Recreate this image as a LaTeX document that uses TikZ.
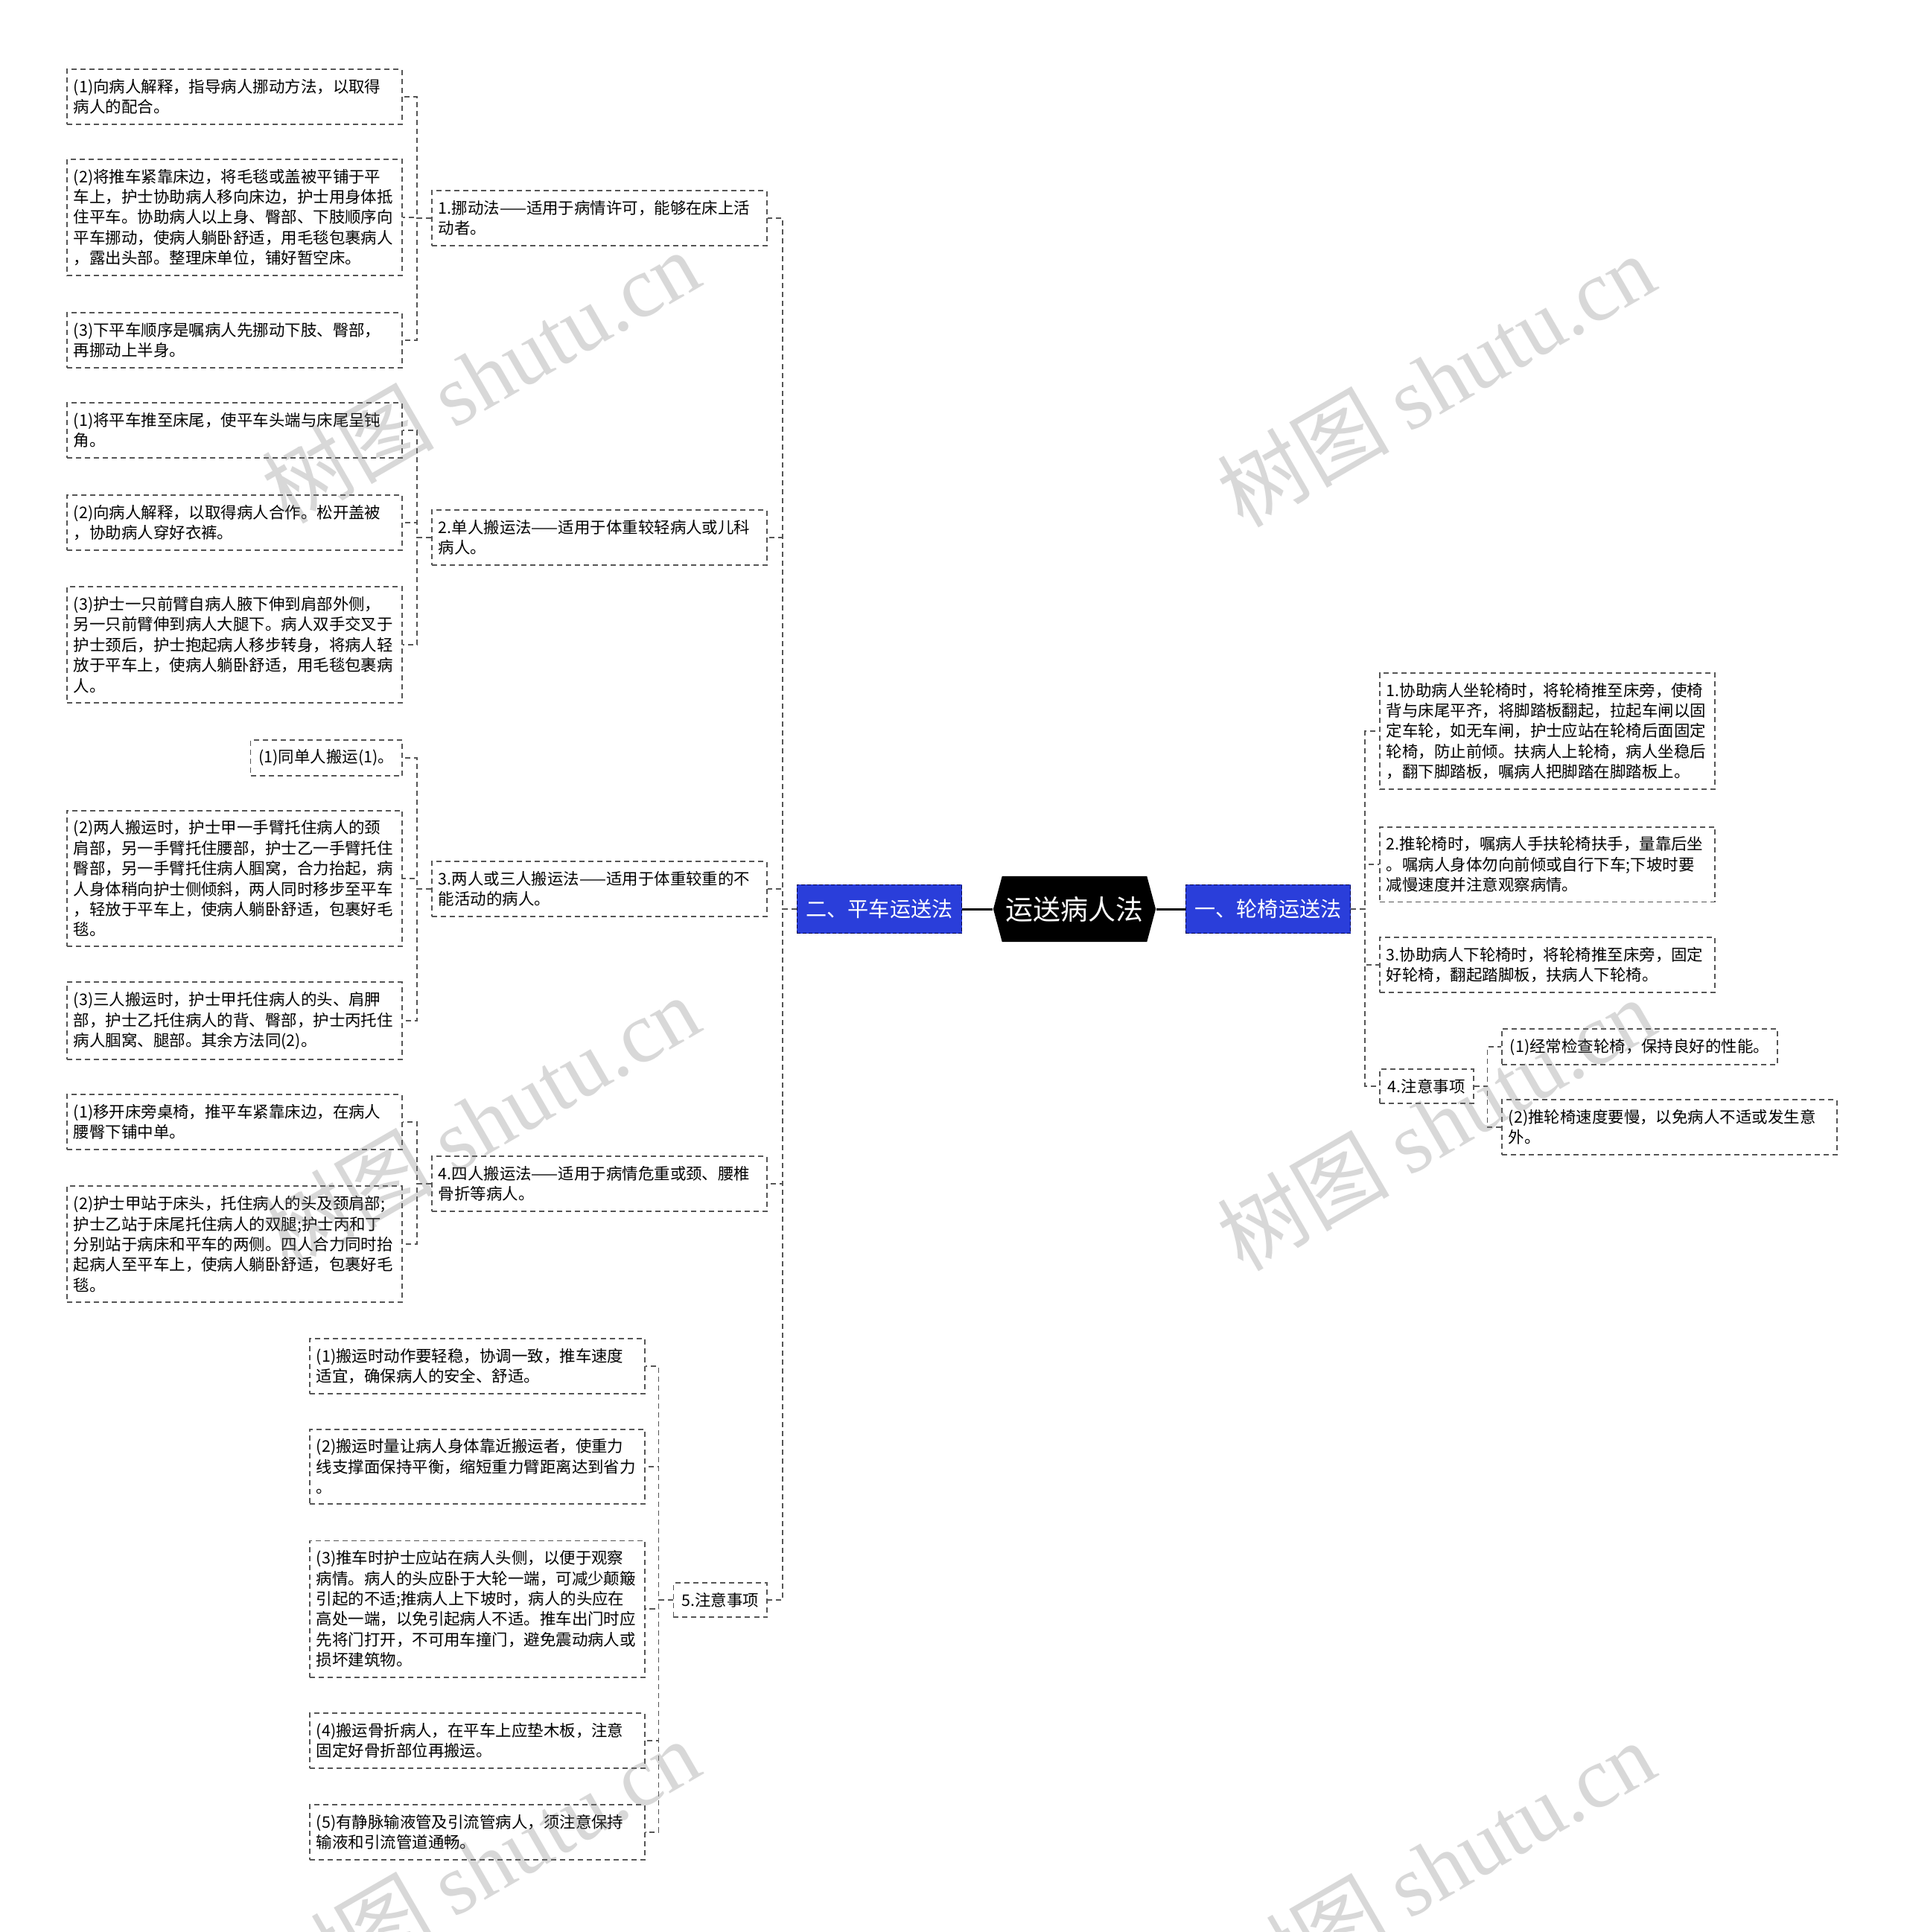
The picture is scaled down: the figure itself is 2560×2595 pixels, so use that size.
\documentclass[tikz,border=0pt]{standalone}
\usepackage{fontspec}
\setmainfont{Noto Sans CJK SC}
\newfontfamily\wmfont{Liberation Serif}
\usetikzlibrary{shapes.symbols}
\definecolor{branchblue}{RGB}{42,62,218}
\definecolor{linkgray}{RGB}{85,85,85}
\tikzset{
  box/.style={draw=linkgray, dash pattern=on 0.07cm off 0.05cm, line width=0.018cm,
    fill=white, inner xsep=0.11cm, inner ysep=0.13cm, font=\fontsize{6.1pt}{7.8pt}\selectfont},
  leaf/.style={box, text width=4.32cm, inner xsep=0.09cm, align=left},
  link/.style={draw=linkgray, dash pattern=on 0.07cm off 0.05cm, line width=0.018cm},
  rootlink/.style={draw=black, line width=0.03cm},
  branch/.style={draw=black!70!blue, dash pattern=on 0.05cm off 0.03cm, line width=0.015cm,
    fill=branchblue, text=white, minimum width=2.21cm, minimum height=0.65cm, inner sep=0pt,
    font=\fontsize{8pt}{9.6pt}\selectfont},
  hub/.style={signal, signal to=west and east, signal pointer angle=150, fill=black, text=white,
    minimum width=2.18cm, minimum height=0.88cm, inner sep=0pt, font=\fontsize{10.5pt}{12pt}\selectfont},
  wm/.style={rotate=30, text=gray, opacity=0.3, font=\fontsize{33pt}{33pt}\selectfont}
}
\begin{document}
\begin{tikzpicture}[x=0.01cm, y=-0.01cm]
  \fill[white] (0,0) rectangle (2560,2595);
  \useasboundingbox (0,0) rectangle (2560,2595);
  % centre
  \node[hub] (root) at (1443,1221) {运送病人法};
  \node[branch] (ping) at (1181,1221) {二、平车运送法};
  \node[branch] (lun) at (1703,1221) {一、轮椅运送法};
  \draw[rootlink] (root.west) -- (ping.east);
  \draw[rootlink] (root.east) -- (lun.west);

  % 平车运送法
  \node[leaf, anchor=east] (p1) at (1031,293) {1.挪动法——适用于病情许可，能够在床上活\\动者。};
  \node[leaf, anchor=east] (p2) at (1031,722) {2.单人搬运法——适用于体重较轻病人或儿科\\病人。};
  \node[leaf, anchor=east] (p3) at (1031,1194) {3.两人或三人搬运法——适用于体重较重的不\\能活动的病人。};
  \node[leaf, anchor=east] (p4) at (1031,1590) {4.四人搬运法——适用于病情危重或颈、腰椎\\骨折等病人。};
  \node[box, anchor=east] (p5) at (1031,2149) {5.注意事项};

  \node[leaf, anchor=east] (p11) at (541,130) {(1)向病人解释，指导病人挪动方法，以取得\\病人的配合。};
  \node[leaf, anchor=east] (p12) at (541,292) {(2)将推车紧靠床边，将毛毯或盖被平铺于平\\车上，护士协助病人移向床边，护士用身体抵\\住平车。协助病人以上身、臀部、下肢顺序向\\平车挪动，使病人躺卧舒适，用毛毯包裹病人\\，露出头部。整理床单位，铺好暂空床。};
  \node[leaf, anchor=east] (p13) at (541,457) {(3)下平车顺序是嘱病人先挪动下肢、臀部，\\再挪动上半身。};

  \node[leaf, anchor=east] (p21) at (541,578) {(1)将平车推至床尾，使平车头端与床尾呈钝\\角。};
  \node[leaf, anchor=east] (p22) at (541,702) {(2)向病人解释，以取得病人合作。松开盖被\\，协助病人穿好衣裤。};
  \node[leaf, anchor=east] (p23) at (541,866) {(3)护士一只前臂自病人腋下伸到肩部外侧，\\另一只前臂伸到病人大腿下。病人双手交叉于\\护士颈后，护士抱起病人移步转身，将病人轻\\放于平车上，使病人躺卧舒适，用毛毯包裹病\\人。};

  \node[box, anchor=east] (p31) at (541,1018) {(1)同单人搬运(1)。};
  \node[leaf, anchor=east] (p32) at (541,1180) {(2)两人搬运时，护士甲一手臂托住病人的颈\\肩部，另一手臂托住腰部，护士乙一手臂托住\\臀部，另一手臂托住病人腘窝，合力抬起，病\\人身体稍向护士侧倾斜，两人同时移步至平车\\，轻放于平车上，使病人躺卧舒适，包裹好毛\\毯。};
  \node[leaf, anchor=east] (p33) at (541,1371) {(3)三人搬运时，护士甲托住病人的头、肩胛\\部，护士乙托住病人的背、臀部，护士丙托住\\病人腘窝、腿部。其余方法同(2)。};

  \node[leaf, anchor=east] (p41) at (541,1507) {(1)移开床旁桌椅，推平车紧靠床边，在病人\\腰臀下铺中单。};
  \node[leaf, anchor=east] (p42) at (541,1671) {(2)护士甲站于床头，托住病人的头及颈肩部;\\护士乙站于床尾托住病人的双腿;护士丙和丁\\分别站于病床和平车的两侧。四人合力同时抬\\起病人至平车上，使病人躺卧舒适，包裹好毛\\毯。};

  \node[leaf, anchor=east] (p51) at (867,1835) {(1)搬运时动作要轻稳，协调一致，推车速度\\适宜，确保病人的安全、舒适。};
  \node[leaf, anchor=east] (p52) at (867,1970) {(2)搬运时量让病人身体靠近搬运者，使重力\\线支撑面保持平衡，缩短重力臂距离达到省力\\。};
  \node[leaf, anchor=east] (p53) at (867,2161) {(3)推车时护士应站在病人头侧，以便于观察\\病情。病人的头应卧于大轮一端，可减少颠簸\\引起的不适;推病人上下坡时，病人的头应在\\高处一端，以免引起病人不适。推车出门时应\\先将门打开，不可用车撞门，避免震动病人或\\损坏建筑物。};
  \node[leaf, anchor=east] (p54) at (867,2338) {(4)搬运骨折病人，在平车上应垫木板，注意\\固定好骨折部位再搬运。};
  \node[leaf, anchor=east] (p55) at (867,2461) {(5)有静脉输液管及引流管病人，须注意保持\\输液和引流管道通畅。};

  % 轮椅运送法
  \node[leaf, anchor=west] (l1) at (1852,982) {1.协助病人坐轮椅时，将轮椅推至床旁，使椅\\背与床尾平齐，将脚踏板翻起，拉起车闸以固\\定车轮，如无车闸，护士应站在轮椅后面固定\\轮椅，防止前倾。扶病人上轮椅，病人坐稳后\\，翻下脚踏板，嘱病人把脚踏在脚踏板上。};
  \node[leaf, anchor=west] (l2) at (1852,1161) {2.推轮椅时，嘱病人手扶轮椅扶手，量靠后坐\\。嘱病人身体勿向前倾或自行下车;下坡时要\\减慢速度并注意观察病情。};
  \node[leaf, anchor=west] (l3) at (1852,1296) {3.协助病人下轮椅时，将轮椅推至床旁，固定\\好轮椅，翻起踏脚板，扶病人下轮椅。};
  \node[box, anchor=west] (l4) at (1852,1459) {4.注意事项};
  \node[box, anchor=west] (l41) at (2016,1406) {(1)经常检查轮椅，保持良好的性能。};
  \node[leaf, anchor=west] (l42) at (2016,1514) {(2)推轮椅速度要慢，以免病人不适或发生意\\外。};

  % connectors
  \draw[link] (ping.west) -- ++(-19,0) |- (p1.east) (ping.west) -- ++(-19,0) |- (p2.east)
    (ping.west) -- ++(-19,0) |- (p3.east) (ping.west) -- ++(-19,0) |- (p4.east)
    (ping.west) -- ++(-19,0) |- (p5.east);
  \draw[link] (p1.west) -- ++(-19,0) |- (p11.east) (p1.west) -- ++(-19,0) |- (p12.east)
    (p1.west) -- ++(-19,0) |- (p13.east);
  \draw[link] (p2.west) -- ++(-19,0) |- (p21.east) (p2.west) -- ++(-19,0) |- (p22.east)
    (p2.west) -- ++(-19,0) |- (p23.east);
  \draw[link] (p3.west) -- ++(-19,0) |- (p31.east) (p3.west) -- ++(-19,0) |- (p32.east)
    (p3.west) -- ++(-19,0) |- (p33.east);
  \draw[link] (p4.west) -- ++(-19,0) |- (p41.east) (p4.west) -- ++(-19,0) |- (p42.east);
  \draw[link] (p5.west) -- ++(-19,0) |- (p51.east) (p5.west) -- ++(-19,0) |- (p52.east)
    (p5.west) -- ++(-19,0) |- (p53.east) (p5.west) -- ++(-19,0) |- (p54.east)
    (p5.west) -- ++(-19,0) |- (p55.east);
  \draw[link] (lun.east) -- ++(19,0) |- (l1.west) (lun.east) -- ++(19,0) |- (l2.west)
    (lun.east) -- ++(19,0) |- (l3.west) (lun.east) -- ++(19,0) |- (l4.west);
  \draw[link] (l4.east) -- ++(18,0) |- (l41.west) (l4.east) -- ++(18,0) |- (l42.west);

  % watermark
  \node[wm] (wm1) at (645,505) {树图 {\wmfont shutu.cn}};
  \node[wm] (wm2) at (1928,510) {树图 {\wmfont shutu.cn}};
  \node[wm] (wm3) at (645,1506) {树图 {\wmfont shutu.cn}};
  \node[wm] (wm4) at (1928,1509) {树图 {\wmfont shutu.cn}};
  \node[wm] (wm5) at (645,2505) {树图 {\wmfont shutu.cn}};
  \node[wm] (wm6) at (1928,2507) {树图 {\wmfont shutu.cn}};
\end{tikzpicture}
\end{document}
